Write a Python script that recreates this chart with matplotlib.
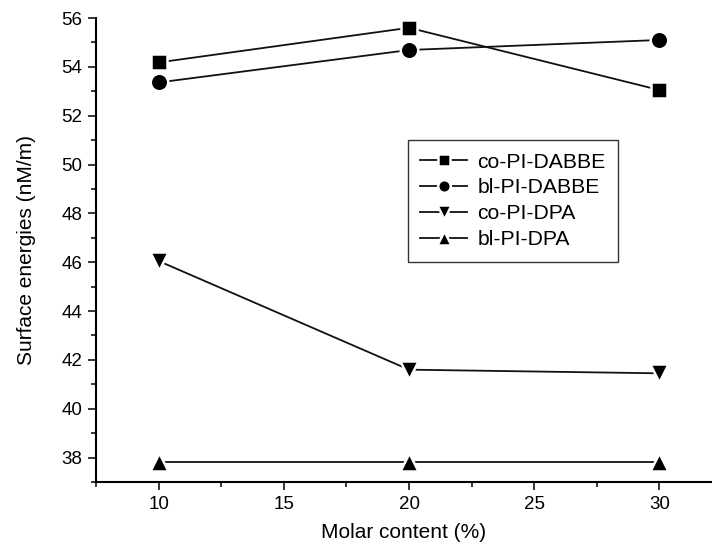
import numpy as np
import matplotlib
matplotlib.use('Agg')
import matplotlib.pyplot as plt
from matplotlib.ticker import MultipleLocator

plt.rcParams['font.family'] = ['Liberation Sans', 'DejaVu Sans']

molar = [10, 20, 30]
co_dabbe = [54.18, 55.6, 53.05]
bl_dabbe = [53.36, 54.69, 55.1]
co_dpa = [46.05, 41.6, 41.45]
bl_dpa = [37.8, 37.8, 37.8]

series = [
    ('co-PI-DABBE', co_dabbe, 's', 11.2),
    ('bl-PI-DABBE', bl_dabbe, 'o', 12.6),
    ('co-PI-DPA', co_dpa, 'v', 13.6),
    ('bl-PI-DPA', bl_dpa, '^', 13.6),
]

fig = plt.figure(figsize=(7.12, 5.47), dpi=100)
ax = fig.add_axes([96/712, 1-482/547, 1-96/712, (482-18)/547])

for name, vals, mk, ms in series:
    ax.plot(molar, vals, color='#111111', lw=1.3, marker=mk, ms=ms,
            mfc='black', mec='white', mew=1.8, label=name, clip_on=False)

ax.set_xlim(7.5, 32.1)
ax.set_ylim(37, 56)
ax.xaxis.set_major_locator(MultipleLocator(5))
ax.xaxis.set_minor_locator(MultipleLocator(2.5))
ax.yaxis.set_major_locator(MultipleLocator(2))
ax.yaxis.set_minor_locator(MultipleLocator(1))

ax.spines['top'].set_visible(False)
ax.spines['right'].set_visible(False)
ax.spines['left'].set_linewidth(1.5)
ax.spines['bottom'].set_linewidth(1.5)
ax.tick_params(which='major', direction='out', length=6, width=1.1, labelsize=13.5, pad=4)
ax.tick_params(which='minor', direction='out', length=3.5, width=1.1)

ax.set_xlabel('Molar content (%)', fontsize=15, labelpad=7)
ax.set_ylabel('Surface energies (nM/m)', fontsize=15, labelpad=18)

leg = ax.legend(loc='upper left', bbox_to_anchor=(0.506, 0.737), borderaxespad=0,
                fontsize=15.2, markerscale=0.72, handlelength=2.2, handletextpad=0.5,
                labelspacing=0.32, borderpad=0.6, fancybox=False, framealpha=1)
leg.get_frame().set_edgecolor('#333333')
leg.get_frame().set_linewidth(1.0)

fig.savefig('out.png', dpi=100)
